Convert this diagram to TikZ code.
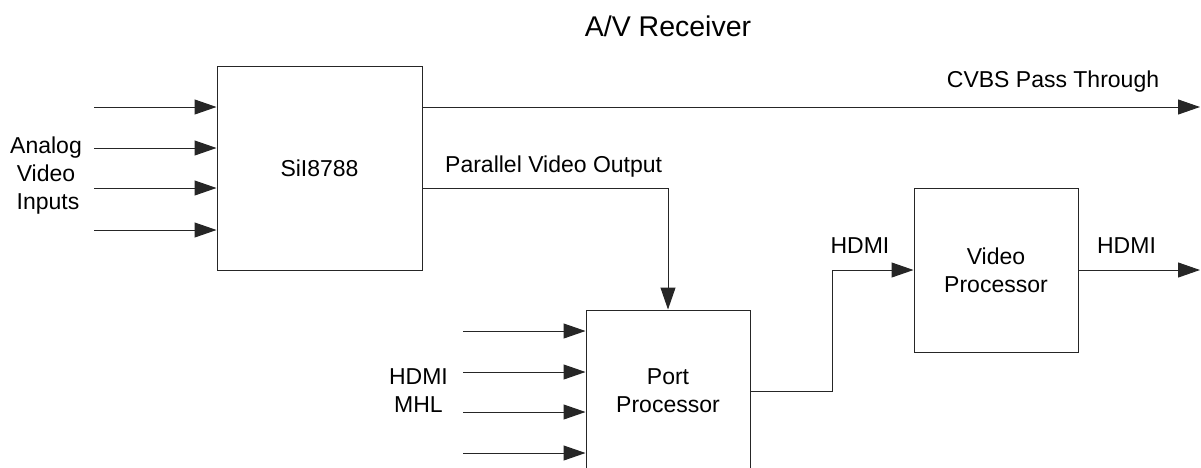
\documentclass[tikz,border=0pt]{standalone}
\usepackage{fontspec}
\setmainfont{Liberation Sans}
\usetikzlibrary{arrows.meta}
\begin{document}
\begin{tikzpicture}[x=1pt,y=-1pt,
  box/.style={draw=black!85,line width=1pt,rectangle,inner sep=0pt},
  lbl/.style={font=\fontsize{23}{28}\selectfont,inner sep=0pt,align=center},
  conn/.style={draw=black!85,line width=1pt},
  arr/.style={conn,-{Triangle[length=22pt,width=15pt]}}]
\path[use as bounding box,clip] (0,0) rectangle (1201,467);
% boxes
\node[box,minimum width=205pt,minimum height=204pt,lbl] (si) at (319.5,168) {SiI8788};
\node[box,minimum width=164pt,minimum height=164pt,lbl] (vp) at (996,270) {Video\\Processor};
\node[box,minimum width=164pt,minimum height=162pt,lbl] (pp) at (668,391) {Port\\Processor};
% title and labels
\node[lbl,font=\fontsize{28.5}{34}\selectfont,anchor=base] (title) at (668,36) {A/V Receiver};
\node[lbl,anchor=base] (cvbs) at (1053,87) {CVBS Pass Through};
\node[lbl,anchor=base west] (pvo) at (445,172) {Parallel Video Output};
\node[lbl,anchor=base] (an1) at (46,153) {Analog};
\node[lbl,anchor=base] (an2) at (46,181) {Video};
\node[lbl,anchor=base] (an3) at (48,209) {Inputs};
\node[lbl,anchor=base] (hd1) at (418.5,384) {HDMI};
\node[lbl,anchor=base] (hd2) at (418.5,412) {MHL};
\node[lbl,anchor=base] (hdin) at (860,253) {HDMI};
\node[lbl,anchor=base] (hdout) at (1126.5,253) {HDMI};
% free ends
\coordinate (a1) at (94,107);
\coordinate (a2) at (94,148);
\coordinate (a3) at (94,188);
\coordinate (a4) at (94,230);
\coordinate (p1) at (463,331);
\coordinate (p2) at (463,372);
\coordinate (p3) at (463,412);
\coordinate (p4) at (463,453);
\coordinate (cvbsend) at (1200,107);
\coordinate (hdmiend) at (1200,270);
\coordinate (pvturn) at (668,188);
% connectors
\foreach \c in {a1,a2,a3,a4}{\draw[arr] (\c) -- (si.west |- \c);}
\foreach \c in {p1,p2,p3,p4}{\draw[arr] (\c) -- (pp.west |- \c);}
\draw[arr] (si.east |- cvbsend) -- (cvbsend);
\draw[arr] (si.east |- pvturn) -- (pvturn) -- (pp.north);
\draw[arr] (pp.east) -- ++(82,0) |- (vp.west);
\draw[arr] (vp.east) -- (hdmiend);
\end{tikzpicture}
\end{document}
